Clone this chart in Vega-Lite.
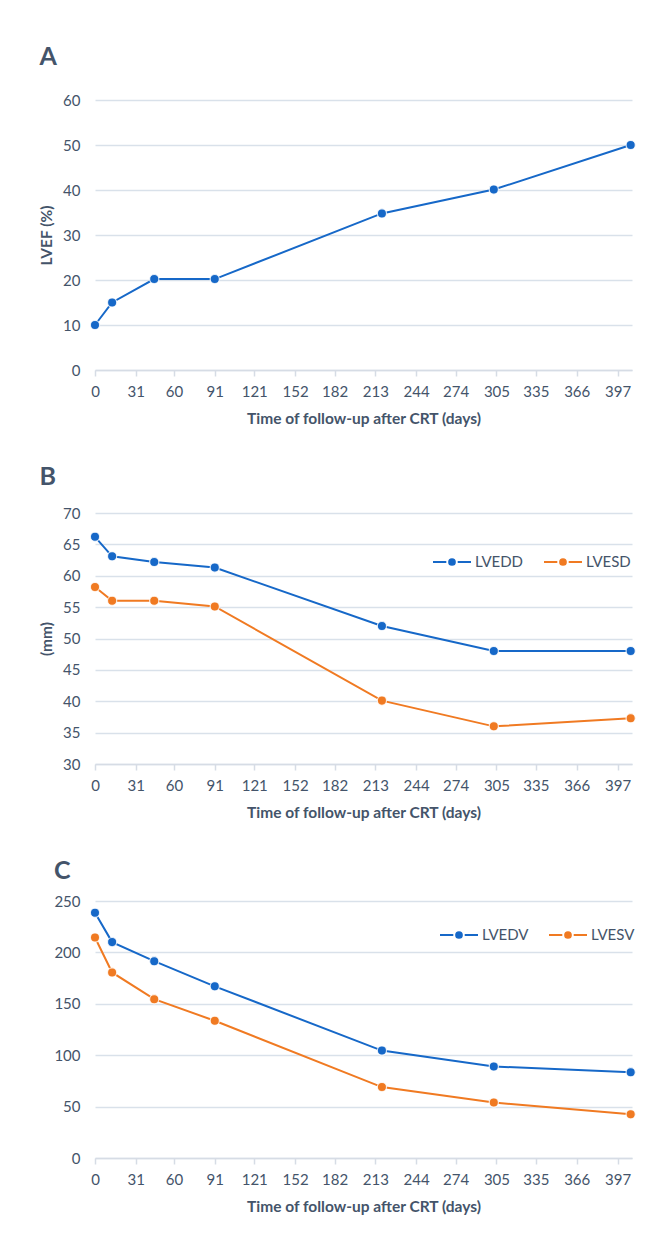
{
  "$schema": "https://vega.github.io/schema/vega-lite/v6.json",
  "background": "white",
  "padding": {"left": 39, "top": 45, "right": 5, "bottom": 5},
  "spacing": 38,
  "datasets": {
    "lvef": [
      {"day": 0, "lvef": 10},
      {"day": 13, "lvef": 15},
      {"day": 45, "lvef": 20.2},
      {"day": 91, "lvef": 20.2},
      {"day": 218, "lvef": 34.8},
      {"day": 303, "lvef": 40.1},
      {"day": 407, "lvef": 50}
    ],
    "dims": [
      {"day": 0, "series": "LVEDD", "value": 66.2},
      {"day": 13, "series": "LVEDD", "value": 63.1},
      {"day": 45, "series": "LVEDD", "value": 62.2},
      {"day": 91, "series": "LVEDD", "value": 61.3},
      {"day": 218, "series": "LVEDD", "value": 52},
      {"day": 303, "series": "LVEDD", "value": 48},
      {"day": 407, "series": "LVEDD", "value": 48},
      {"day": 0, "series": "LVESD", "value": 58.2},
      {"day": 13, "series": "LVESD", "value": 56},
      {"day": 45, "series": "LVESD", "value": 56},
      {"day": 91, "series": "LVESD", "value": 55.1},
      {"day": 218, "series": "LVESD", "value": 40.1},
      {"day": 303, "series": "LVESD", "value": 36},
      {"day": 407, "series": "LVESD", "value": 37.3}
    ],
    "vols": [
      {"day": 0, "series": "LVEDV", "value": 238.5},
      {"day": 13, "series": "LVEDV", "value": 210},
      {"day": 45, "series": "LVEDV", "value": 191.5},
      {"day": 91, "series": "LVEDV", "value": 167},
      {"day": 218, "series": "LVEDV", "value": 104.5},
      {"day": 303, "series": "LVEDV", "value": 89},
      {"day": 407, "series": "LVEDV", "value": 83.5},
      {"day": 0, "series": "LVESV", "value": 214.5},
      {"day": 13, "series": "LVESV", "value": 180.5},
      {"day": 45, "series": "LVESV", "value": 154.5},
      {"day": 91, "series": "LVESV", "value": 133.5},
      {"day": 218, "series": "LVESV", "value": 69},
      {"day": 303, "series": "LVESV", "value": 54},
      {"day": 407, "series": "LVESV", "value": 42.5}
    ]
  },
  "config": {
    "font": "Lato",
    "view": {"stroke": null},
    "title": {"anchor": "start", "fontSize": 25, "fontWeight": "bold", "color": "#44546A", "font": "Lato", "dx": 0},
    "axis": {
      "labelFont": "Lato", "labelFontSize": 15, "labelColor": "#44546A",
      "titleFont": "Lato", "titleFontSize": 15.5, "titleFontWeight": "bold", "titleColor": "#44546A"
    },
    "axisX": {
      "grid": false, "domainColor": "#D6DCE5", "domainWidth": 1.5, "tickColor": "#D6DCE5", "tickSize": 6, "tickWidth": 1.5,
      "labelPadding": 8, "titlePadding": 12, "labelFlush": false, "labelOverlap": false
    },
    "axisY": {
      "grid": true, "gridColor": "#D9E1EA", "gridWidth": 1.5, "domain": false, "ticks": false,
      "labelPadding": 15, "titlePadding": 8
    }
  },
  "resolve": {"scale": {"color": "independent", "y": "independent"}, "legend": {"color": "independent"}},
  "vconcat": [
    {
      "title": {"text": "A", "offset": 23},
      "width": 537, "height": 270,
      "data": {"name": "lvef"},
      "encoding": {
        "x": {"field": "day", "type": "quantitative", "scale": {"domain": [0, 408], "nice": false, "zero": false},
              "axis": {"values": [0, 31, 60, 91, 121, 152, 182, 213, 244, 274, 305, 335, 366, 397], "title": "Time of follow-up after CRT (days)"}},
        "y": {"field": "lvef", "type": "quantitative", "scale": {"domain": [0, 60]},
              "axis": {"values": [0, 10, 20, 30, 40, 50, 60], "title": "LVEF (%)"}}
      },
      "layer": [
        {"mark": {"type": "line", "color": "#1668C8", "strokeWidth": 2}},
        {"mark": {"type": "point", "filled": true, "fill": "#1668C8", "stroke": "white", "strokeWidth": 1.2, "strokeOpacity": 0.8, "size": 85, "opacity": 1}}
      ]
    },
    {
      "title": {"text": "B", "offset": 16},
      "width": 537, "height": 251,
      "data": {"name": "dims"},
      "encoding": {
        "x": {"field": "day", "type": "quantitative", "scale": {"domain": [0, 408], "nice": false, "zero": false},
              "axis": {"values": [0, 31, 60, 91, 121, 152, 182, 213, 244, 274, 305, 335, 366, 397], "title": "Time of follow-up after CRT (days)"}},
        "y": {"field": "value", "type": "quantitative", "scale": {"domain": [30, 70], "zero": false},
              "axis": {"values": [30, 35, 40, 45, 50, 55, 60, 65, 70], "title": "(mm)"}}
      },
      "layer": [
        {"mark": {"type": "line", "strokeWidth": 2},
         "encoding": {"color": {"field": "series", "type": "nominal",
           "scale": {"domain": ["LVEDD", "LVESD"], "range": ["#1668C8", "#F07A22"]},
           "legend": {"orient": "none", "legendX": 337, "legendY": 29, "direction": "horizontal", "title": null,
             "symbolType": "M-1,0L-0.3,0M0.3,0L1,0M-0.15,0A0.15,0.15 0 1,0 0.15,0A0.15,0.15 0 1,0 -0.15,0Z",
             "symbolSize": 1444, "symbolStrokeWidth": 2, "labelFontSize": 15, "labelColor": "#44546A", "labelFont": "Lato",
             "columnPadding": 16, "labelOffset": 3, "padding": 0,
             "encode": {"symbols": {"update": {"fill": {"signal": "datum.value === 'LVEDD' ? '#1668C8' : '#F07A22'"}, "fillOpacity": {"value": 1}}}}}}}},
        {"mark": {"type": "point", "filled": true, "stroke": "white", "strokeWidth": 1.2, "strokeOpacity": 0.8, "size": 85, "opacity": 1},
         "encoding": {"fill": {"field": "series", "type": "nominal",
           "scale": {"domain": ["LVEDD", "LVESD"], "range": ["#1668C8", "#F07A22"]}, "legend": null}}}
      ]
    },
    {
      "title": {"text": "C", "offset": 10},
      "width": 537, "height": 257,
      "data": {"name": "vols"},
      "encoding": {
        "x": {"field": "day", "type": "quantitative", "scale": {"domain": [0, 408], "nice": false, "zero": false},
              "axis": {"values": [0, 31, 60, 91, 121, 152, 182, 213, 244, 274, 305, 335, 366, 397], "title": "Time of follow-up after CRT (days)"}},
        "y": {"field": "value", "type": "quantitative", "scale": {"domain": [0, 250]},
              "axis": {"values": [0, 50, 100, 150, 200, 250], "title": null}}
      },
      "layer": [
        {"mark": {"type": "line", "strokeWidth": 2},
         "encoding": {"color": {"field": "series", "type": "nominal",
           "scale": {"domain": ["LVEDV", "LVESV"], "range": ["#1668C8", "#F07A22"]},
           "legend": {"orient": "none", "legendX": 344, "legendY": 14, "direction": "horizontal", "title": null,
             "symbolType": "M-1,0L-0.3,0M0.3,0L1,0M-0.15,0A0.15,0.15 0 1,0 0.15,0A0.15,0.15 0 1,0 -0.15,0Z",
             "symbolSize": 1444, "symbolStrokeWidth": 2, "labelFontSize": 15, "labelColor": "#44546A", "labelFont": "Lato",
             "columnPadding": 16, "labelOffset": 3, "padding": 0,
             "encode": {"symbols": {"update": {"fill": {"signal": "datum.value === 'LVEDV' ? '#1668C8' : '#F07A22'"}, "fillOpacity": {"value": 1}}}}}}}},
        {"mark": {"type": "point", "filled": true, "stroke": "white", "strokeWidth": 1.2, "strokeOpacity": 0.8, "size": 85, "opacity": 1},
         "encoding": {"fill": {"field": "series", "type": "nominal",
           "scale": {"domain": ["LVEDV", "LVESV"], "range": ["#1668C8", "#F07A22"]}, "legend": null}}}
      ]
    }
  ]
}
